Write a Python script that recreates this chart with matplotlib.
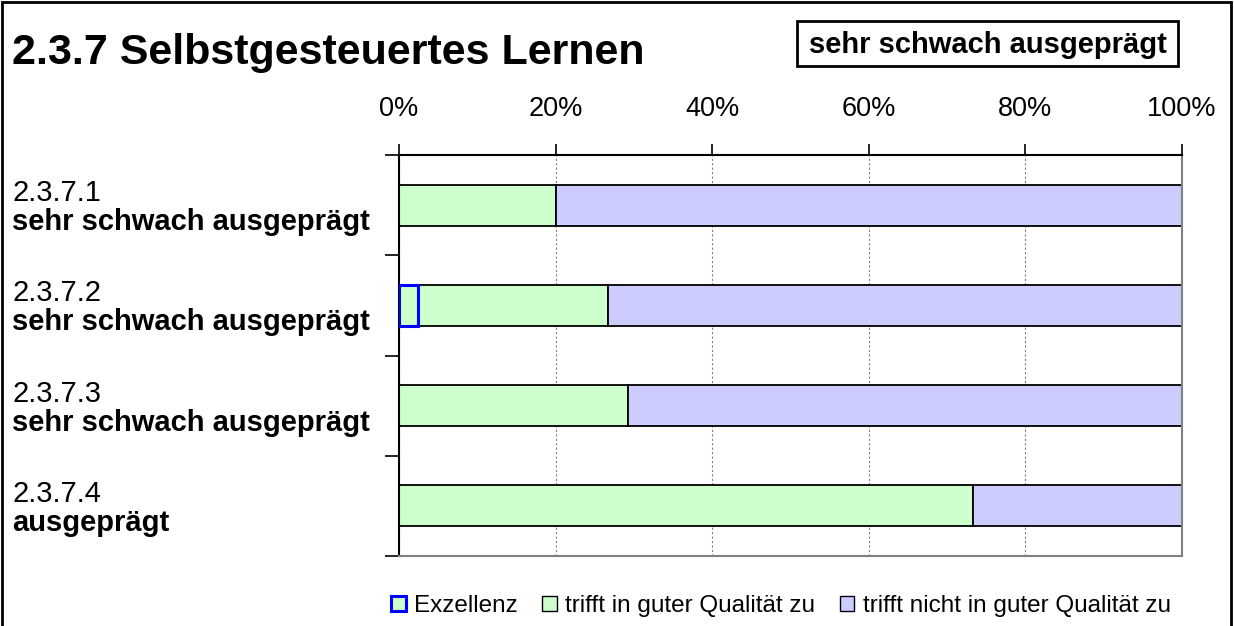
import matplotlib
matplotlib.use("Agg")
import matplotlib.pyplot as plt
from matplotlib.patches import Patch, Rectangle
import matplotlib.transforms as mtransforms

plt.rcParams["font.family"] = ["Liberation Sans", "DejaVu Sans"]

# data
codes = ["2.3.7.1", "2.3.7.2", "2.3.7.3", "2.3.7.4"]
ratings = ["sehr schwach ausgeprägt", "sehr schwach ausgeprägt",
           "sehr schwach ausgeprägt", "ausgeprägt"]
exzellenz = [0.0, 2.4, 0.0, 0.0]
gut = [20.0, 24.3, 29.2, 73.3]
nicht_gut = [80.0, 73.3, 70.8, 26.7]
x_ticks = [0, 20, 40, 60, 80, 100]
title = "2.3.7 Selbstgesteuertes Lernen"
overall = "sehr schwach ausgeprägt"
legend_labels = ["Exzellenz", "trifft in guter Qualität zu",
                 "trifft nicht in guter Qualität zu"]

green = "#ccffcc"
lilac = "#ccccff"
blue = "#0000ff"

W, H = 1234, 626
fig = plt.figure(figsize=(W / 100, H / 100), dpi=100)
ax = fig.add_axes([399 / W, 1 - 556 / H, 783 / W, 401 / H])

ypos = list(range(len(codes)))
bh = 0.41
# only draw the Exzellenz segments that exist, so zero widths leave no blue line
ex_idx = [i for i, v in enumerate(exzellenz) if v > 0]
ax.barh([ypos[i] for i in ex_idx], [exzellenz[i] for i in ex_idx], height=bh,
        color=green, edgecolor=blue, linewidth=2.2, zorder=3)
ax.barh(ypos, gut, left=exzellenz, height=bh, color=green, edgecolor="black",
        linewidth=1.3, zorder=2)
left2 = [a + b for a, b in zip(exzellenz, gut)]
ax.barh(ypos, nicht_gut, left=left2, height=bh, color=lilac, edgecolor="black",
        linewidth=1.3, zorder=2)

ax.set_xlim(0, 100)
ax.set_ylim(len(codes) - 0.5, -0.5)
ax.set_xticks(x_ticks)
ax.set_xticklabels([f"{t}%" for t in x_ticks])
ax.xaxis.tick_top()
ax.tick_params(axis="x", direction="out", length=8, width=1.2, pad=16,
               labelsize=19.5, color="black")
ax.set_yticks([i - 0.5 for i in range(len(codes) + 1)])
ax.set_yticklabels([])
ax.tick_params(axis="y", direction="out", length=10, width=1.2, color="black")

ax.grid(axis="x", color="#808080", linestyle=(0, (2, 2)), linewidth=0.8, zorder=0)
ax.set_axisbelow(True)

ax.spines["top"].set_color("black")
ax.spines["top"].set_linewidth(1.5)
ax.spines["left"].set_color("black")
ax.spines["left"].set_linewidth(1.5)
ax.spines["right"].set_color("#808080")
ax.spines["right"].set_linewidth(1.5)
ax.spines["bottom"].set_color("#808080")
ax.spines["bottom"].set_linewidth(1.5)

# category labels, two lines each
trans = mtransforms.blended_transform_factory(fig.transFigure, ax.transData)
for i, (c, r) in enumerate(zip(codes, ratings)):
    ax.text(12 / W, i - 0.04, c, transform=trans, fontsize=21, va="baseline",
            ha="left", clip_on=False)
    ax.text(12 / W, i + 0.25, r, transform=trans, fontsize=21, va="baseline",
            ha="left", fontweight="bold", clip_on=False)

# title and overall rating box
fig.text(12 / W, 1 - 64 / H, title, fontsize=31, fontweight="bold", va="baseline")
fig.patches.append(Rectangle((797 / W, 1 - 66 / H), 381 / W, 45 / H,
                             transform=fig.transFigure, fill=False,
                             edgecolor="black", linewidth=2))
fig.text(988 / W, 1 - 53 / H, overall, fontsize=21, fontweight="bold",
         ha="center", va="baseline")

# outer frame
fig.patches.append(Rectangle((2 / W, -0.05), 1229 / W, 1.05 - 2 / H,
                             transform=fig.transFigure, fill=False,
                             edgecolor="black", linewidth=2, clip_on=False))

handles = [
    Patch(facecolor=green, edgecolor=blue, linewidth=2.2),
    Patch(facecolor=green, edgecolor="black", linewidth=1),
    Patch(facecolor=lilac, edgecolor="black", linewidth=1),
]
fig.legend(handles, legend_labels, loc="center", bbox_to_anchor=(781 / W, 1 - 606 / H),
           ncol=3, frameon=False, fontsize=17.5, handlelength=0.6, handleheight=0.6,
           handletextpad=0.35, columnspacing=1.0, borderpad=0)

fig.savefig("out.png", dpi=100)
